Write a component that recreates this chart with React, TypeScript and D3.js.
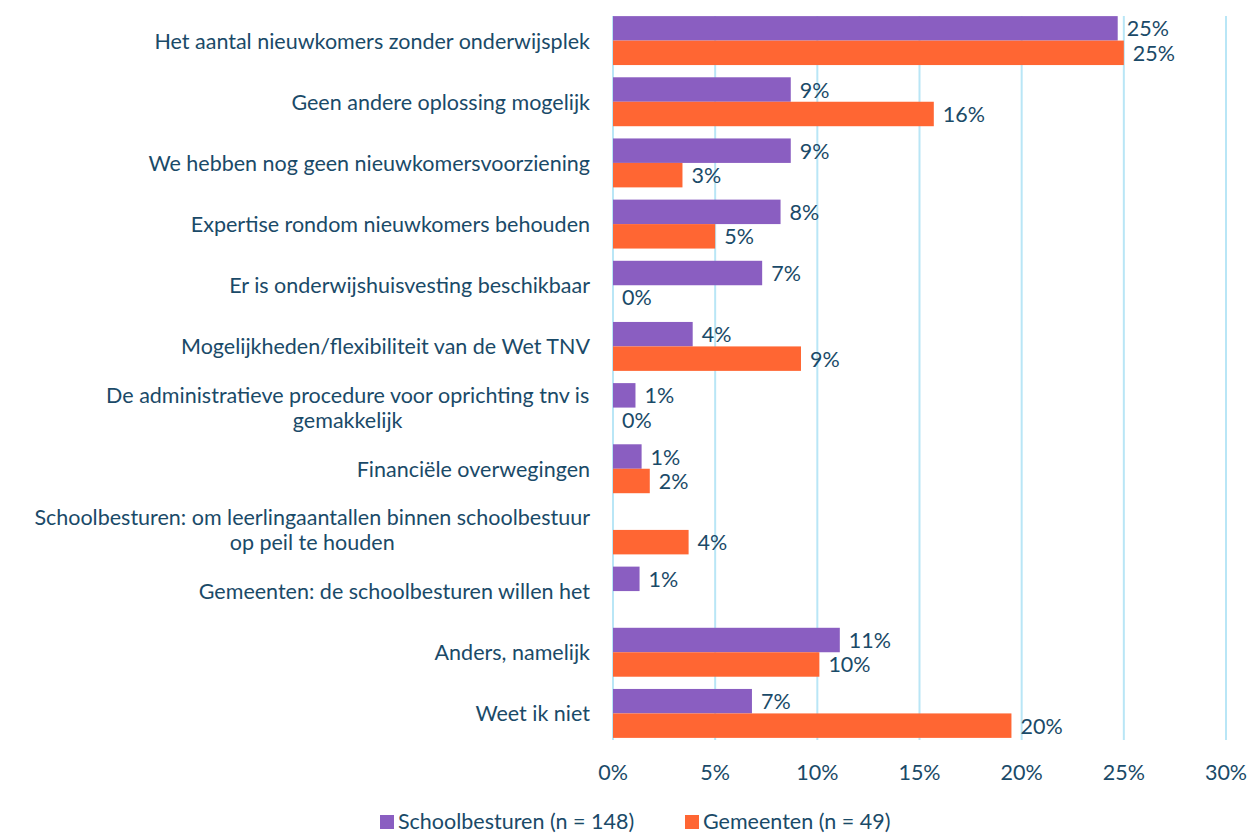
import { useMemo } from 'react'
import * as d3 from 'd3'

const categories = [
  ['Het aantal nieuwkomers zonder onderwijsplek'],
  ['Geen andere oplossing mogelijk'],
  ['We hebben nog geen nieuwkomersvoorziening'],
  ['Expertise rondom nieuwkomers behouden'],
  ['Er is onderwijshuisvesting beschikbaar'],
  ['Mogelijkheden/flexibiliteit van de Wet TNV'],
  ['De administratieve procedure voor oprichting tnv is', 'gemakkelijk'],
  ['Financiële overwegingen'],
  ['Schoolbesturen: om leerlingaantallen binnen schoolbestuur', 'op peil te houden'],
  ['Gemeenten: de schoolbesturen willen het'],
  ['Anders, namelijk'],
  ['Weet ik niet'],
]

// null = no bar and no label for that group
const schoolbesturen: (number | null)[] = [24.7, 8.7, 8.7, 8.2, 7.3, 3.9, 1.1, 1.4, null, 1.3, 11.1, 6.8]
const schoolLabels = ['25%', '9%', '9%', '8%', '7%', '4%', '1%', '1%', '', '1%', '11%', '7%']
const gemeenten: (number | null)[] = [25.0, 15.7, 3.4, 5.0, 0, 9.2, 0, 1.8, 3.7, null, 10.1, 19.5]
const gemeenteLabels = ['25%', '16%', '3%', '5%', '0%', '9%', '0%', '2%', '4%', '', '10%', '20%']

const xTicks = [0, 5, 10, 15, 20, 25, 30]

const series = [
  { name: 'Schoolbesturen (n = 148)', values: schoolbesturen, labels: schoolLabels, color: '#8A5EC1' },
  { name: 'Gemeenten (n = 49)', values: gemeenten, labels: gemeenteLabels, color: '#FF6633' },
]

const WIDTH = 1255
const HEIGHT = 835
const FONT = 'Lato, "Open Sans", sans-serif'
const FS = 21.5
const TEXT = '#1A4A68'
const GRID = '#B9E6F6'

const plot = { left: 613, right: 1226, top: 10, bottom: 744 }

function measure(text: string, size: number) {
  const ctx = document.createElement('canvas').getContext('2d')
  if (!ctx) return text.length * size * 0.5
  ctx.font = `${size}px Lato`
  return ctx.measureText(text).width
}

export default function App() {
  const { x, y, inner } = useMemo(() => {
    const x = d3.scaleLinear().domain([0, 30]).range([plot.left, plot.right])
    const y = d3
      .scaleBand<number>()
      .domain(categories.map((_, i) => i))
      .range([plot.top, plot.bottom])
      .paddingInner(0.2)
      .paddingOuter(0.1)
    const inner = d3
      .scaleBand<number>()
      .domain([0, 1])
      .range([0, y.bandwidth()])
    return { x, y, inner }
  }, [])

  const labelRight = 590

  return (
    <div style={{ position: 'absolute', left: 0, top: 0 }}>
      <svg width={WIDTH} height={HEIGHT} fontFamily={FONT} style={{ display: 'block' }}>
        <rect width={WIDTH} height={HEIGHT} fill="#fff" />
        {xTicks.map((t) => (
          <g key={t}>
            <line x1={x(t)} x2={x(t)} y1={plot.top + 6} y2={plot.bottom - 4} stroke={GRID} strokeWidth={2} />
            <text x={x(t)} y={772} textAnchor="middle" dominantBaseline="central" fontSize={FS} fill={TEXT}>
              {t}%
            </text>
          </g>
        ))}

        {categories.map((lines, i) => {
          const cy = (y(i) || 0) + y.bandwidth() / 2
          const widths = lines.map((l) => measure(l, FS))
          const maxW = Math.max(...widths)
          const lineH = 25
          return (
            <g key={i}>
              {lines.map((l, j) => (
                <text
                  key={j}
                  x={lines.length > 1 ? labelRight - maxW / 2 : labelRight}
                  y={cy + (j - (lines.length - 1) / 2) * lineH}
                  textAnchor={lines.length > 1 ? 'middle' : 'end'}
                  dominantBaseline="central"
                  fontSize={FS}
                  fill={TEXT}
                >
                  {l}
                </text>
              ))}
              {series.map((s, k) => {
                const v = s.values[i]
                if (v === null) return null
                const by = (y(i) || 0) + (inner(k) || 0)
                return (
                  <g key={k}>
                    {v > 0 && (
                      <rect
                        x={x(0)}
                        y={by}
                        width={x(v) - x(0)}
                        height={inner.bandwidth()}
                        fill={s.color}
                      />
                    )}
                    <text
                      x={x(v) + 9}
                      y={by + inner.bandwidth() / 2}
                      dominantBaseline="central"
                      fontSize={FS}
                      fill={TEXT}
                    >
                      {s.labels[i]}
                    </text>
                  </g>
                )
              })}
            </g>
          )
        })}

        <g transform="translate(380, 821)">
          {series.map((s, k) => (
            <g key={k} transform={`translate(${k * 305}, 0)`}>
              <rect x={0} y={-6} width={14} height={14} fill={s.color} />
              <text x={18} y={0} dominantBaseline="central" fontSize={FS} fill={TEXT}>
                {s.name}
              </text>
            </g>
          ))}
        </g>
      </svg>
    </div>
  )
}
